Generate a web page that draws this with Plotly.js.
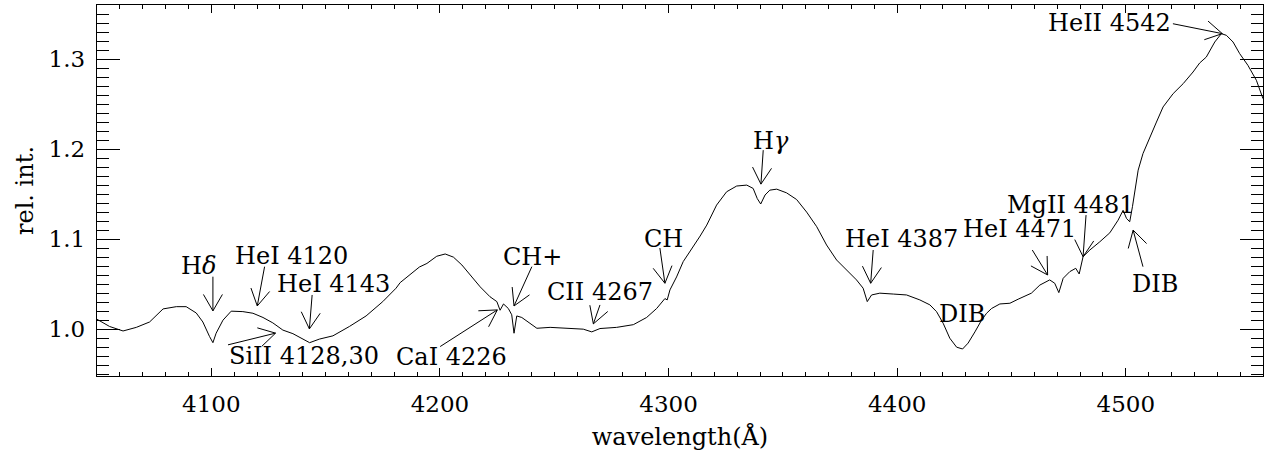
<!DOCTYPE html>
<html>
<head>
<meta charset="utf-8">
<script src="https://cdn.plot.ly/plotly-3.0.1.min.js"></script>
<style>
html,body{margin:0;padding:0;background:#fff;}
#chart{width:1275px;height:451px;}
</style>
</head>
<body>
<div id="chart"></div>
<script>
// ---- data ----
const wavelength = [
4050.0,4055.5,4061.4,4067.2,4073.0,4078.9,4084.7,4089.0,4093.4,4096.3,
4099.2,4100.7,4102.1,4105.1,4108.7,4113.8,4118.2,4122.6,4126.9,4131.3,
4135.7,4140.0,4143.0,4147.3,4153.2,4160.4,4167.7,4175.0,4180.8,4182.6,
4188.4,4191.0,4194.3,4198.6,4202.3,4205.9,4209.6,4213.2,4217.6,4221.9,
4224.9,4226.3,4227.8,4229.9,4231.4,4232.4,4233.6,4235.8,4239.4,4242.4,
4248.2,4255.5,4262.7,4266.4,4270.0,4277.3,4284.6,4290.4,4294.8,4298.4,
4299.4,4300.6,4303.5,4306.4,4310.8,4313.8,4316.7,4321.0,4325.4,4329.8,
4334.2,4337.0,4338.8,4340.3,4342.2,4344.3,4347.3,4351.6,4356.0,4360.4,
4364.8,4369.1,4373.5,4377.9,4382.2,4385.1,4386.9,4388.8,4392.4,4398.3,
4404.1,4409.9,4414.3,4417.2,4420.1,4423.0,4426.0,4428.6,4431.0,4434.0,
4436.9,4439.1,4441.3,4444.9,4449.3,4452.9,4458.7,4462.4,4466.7,4468.9,
4470.7,4472.6,4475.5,4478.1,4479.6,4481.3,4484.3,4488.6,4493.0,4496.6,
4498.8,4500.3,4501.7,4502.9,4503.9,4505.4,4507.5,4510.5,4513.4,4516.3,
4520.7,4525.1,4529.4,4532.3,4535.2,4538.9,4541.8,4544.0,4546.9,4549.8,
4553.4,4557.1,4560.0
];
const relInt = [
1.011,1.003,0.998,1.002,1.008,1.0225,1.025,1.025,1.018,1.008,
0.992,0.985,0.9955,1.010,1.020,1.0195,1.0177,1.013,1.007,0.999,
0.995,0.989,0.985,0.989,0.9926,1.003,1.0147,1.0306,1.0455,1.0517,
1.064,1.069,1.073,1.081,1.0835,1.080,1.0713,1.060,1.047,1.036,
1.0306,1.021,1.028,1.023,1.016,0.9955,1.0147,1.013,1.0066,1.001,
1.002,1.001,1.000,0.997,1.0007,1.002,1.005,1.013,1.023,1.034,
1.0325,1.0436,1.058,1.075,1.0916,1.1034,1.1156,1.1378,1.1526,1.159,
1.160,1.1563,1.145,1.139,1.149,1.1544,1.1555,1.1514,1.144,1.130,
1.1138,1.0935,1.0768,1.0657,1.0547,1.0455,1.0306,1.038,1.040,1.039,
1.038,1.0325,1.027,1.0195,1.0066,0.990,0.980,0.978,0.9845,0.997,
1.010,1.0177,1.023,1.028,1.0288,1.0333,1.040,1.049,1.0547,1.051,
1.0406,1.0565,1.0639,1.0676,1.0613,1.0805,1.088,1.097,1.107,1.121,
1.132,1.123,1.1193,1.136,1.1544,1.1766,1.195,1.2135,1.230,1.2468,
1.2616,1.2727,1.2856,1.2956,1.3022,1.3189,1.3282,1.3263,1.3189,1.306,
1.293,1.2764,1.256
];
const xTickVals = [4100,4200,4300,4400,4500];
const yTickVals = [1.0,1.1,1.2,1.3];
const yTickText = ['1.0','1.1','1.2','1.3'];
const lineLabels = ['H<i>δ</i>','HeI 4120','HeI 4143','SiII 4128,30','CaI 4226','CH+',
  'CII 4267','CH','H<i>γ</i>','HeI 4387','DIB','HeI 4471','MgII 4481','DIB','HeII 4542'];

// ---- label placement (text centre) and arrows [tailX, tailY, tipX, tipY] ----
const labelPos = [
  [4094.3,1.0702],[4134.9,1.0813],[4153.5,1.0502],[4140.4,0.9698],[4205.0,0.9693],
  [4240.3,1.0807],[4270.2,1.0414],[4297.8,1.1001],[4344.6,1.2088],[4402.0,1.1001],
  [4428.3,1.0170],[4453.6,1.1112],[4476.0,1.1378],[4512.6,1.0500],[4492.8,1.3396]
];
const arrows = [
  [4100.7,1.0583,4100.7,1.0203],
  [4123.3,1.0694,4120.1,1.0258],
  [4144.1,1.0380,4142.9,1.0003],
  [4107.3,0.9826,4128.1,0.9956],
  [4200.1,0.9807,4225.1,1.0214],
  [4240.2,1.0694,4232.4,1.0258],
  [4270.0,1.0269,4267.1,1.0059],
  [4296.2,1.0901,4298.4,1.0510],
  [4341.4,1.1988,4340.4,1.1611],
  [4389.5,1.0879,4388.4,1.0510],
  null,
  [4459.1,1.0879,4465.8,1.0602],
  [4482.6,1.1267,4481.3,1.0805],
  [4507.5,1.0694,4503.2,1.1100],
  [4520.6,1.3392,4542.2,1.3282]
];

const M = {l:97, r:12, t:5, b:75};
const W = 1275 - M.l - M.r, H = 451 - M.t - M.b;
const xr = [4050, 4560], yr = [0.948, 1.36];
const toPx = x => M.l + (x - xr[0]) / (xr[1] - xr[0]) * W;
const toPy = y => M.t + (yr[1] - y) / (yr[1] - yr[0]) * H;
const fromPx = p => xr[0] + (p - M.l) / W * (xr[1] - xr[0]);
const fromPy = p => yr[1] - (p - M.t) / H * (yr[1] - yr[0]);

const FONT = 'DejaVu Serif, Liberation Serif, serif';

const shapes = [];
arrows.forEach(a => {
  if (!a) return;
  const tx = toPx(a[0]), ty = toPy(a[1]), hx = toPx(a[2]), hy = toPy(a[3]);
  const dx = hx - tx, dy = hy - ty, len = Math.hypot(dx, dy);
  const ux = dx / len, uy = dy / len;
  const L = 19, ang = 30 * Math.PI / 180;
  const arm = s => {
    const c = Math.cos(s * ang), sn = Math.sin(s * ang);
    const rx = ux * c - uy * sn, ry = ux * sn + uy * c;
    return [fromPx(hx - L * rx), fromPy(hy - L * ry)];
  };
  const a1 = arm(1), a2 = arm(-1);
  shapes.push({
    type: 'path', xref: 'x', yref: 'y',
    path: `M${a[0]},${a[1]}L${a[2]},${a[3]}M${a1[0]},${a1[1]}L${a[2]},${a[3]}L${a2[0]},${a2[1]}`,
    line: {color: 'black', width: 1}
  });
});

const annotations = lineLabels.map((t, i) => ({
  x: labelPos[i][0], y: labelPos[i][1], xref: 'x', yref: 'y',
  text: t, showarrow: false, xanchor: 'center', yanchor: 'middle',
  font: {family: FONT, size: 24, color: 'black'}
}));

const trace = {
  x: wavelength, y: relInt, type: 'scatter', mode: 'lines',
  line: {color: 'black', width: 1}, hoverinfo: 'skip'
};

const layout = {
  width: 1275, height: 451,
  margin: M,
  paper_bgcolor: 'white', plot_bgcolor: 'white',
  showlegend: false,
  font: {family: FONT, size: 24, color: 'black'},
  xaxis: {
    range: xr, tickvals: xTickVals, ticktext: xTickVals.map(String),
    ticks: 'inside', ticklen: 8, tickwidth: 1, tickcolor: 'black',
    minor: {dtick: 10, tick0: 4050, ticks: 'inside', ticklen: 4, tickwidth: 1, tickcolor: 'black', showgrid: false},
    showline: true, linecolor: 'black', linewidth: 1.3, mirror: 'ticks',
    showgrid: false, zeroline: false, ticklabelstandoff: 7,
    tickfont: {family: FONT, size: 23, color: 'black'},
    title: {text: 'wavelength(Å)', font: {family: FONT, size: 24, color: 'black'}, standoff: 13}
  },
  yaxis: {
    range: yr, tickvals: yTickVals, ticktext: yTickText,
    ticks: 'inside', ticklen: 23, tickwidth: 1, tickcolor: 'black',
    minor: {dtick: 0.01, tick0: 0, ticks: 'inside', ticklen: 12, tickwidth: 1, tickcolor: 'black', showgrid: false},
    showline: true, linecolor: 'black', linewidth: 1.3, mirror: 'ticks',
    showgrid: false, zeroline: false, ticklabelstandoff: 6,
    tickfont: {family: FONT, size: 23, color: 'black'},
    title: {text: 'rel. int.', font: {family: FONT, size: 24, color: 'black'}, standoff: 8}
  },
  shapes: shapes,
  annotations: annotations
};

Plotly.newPlot('chart', [trace], layout, {staticPlot: true, displayModeBar: false});
</script>
</body>
</html>
